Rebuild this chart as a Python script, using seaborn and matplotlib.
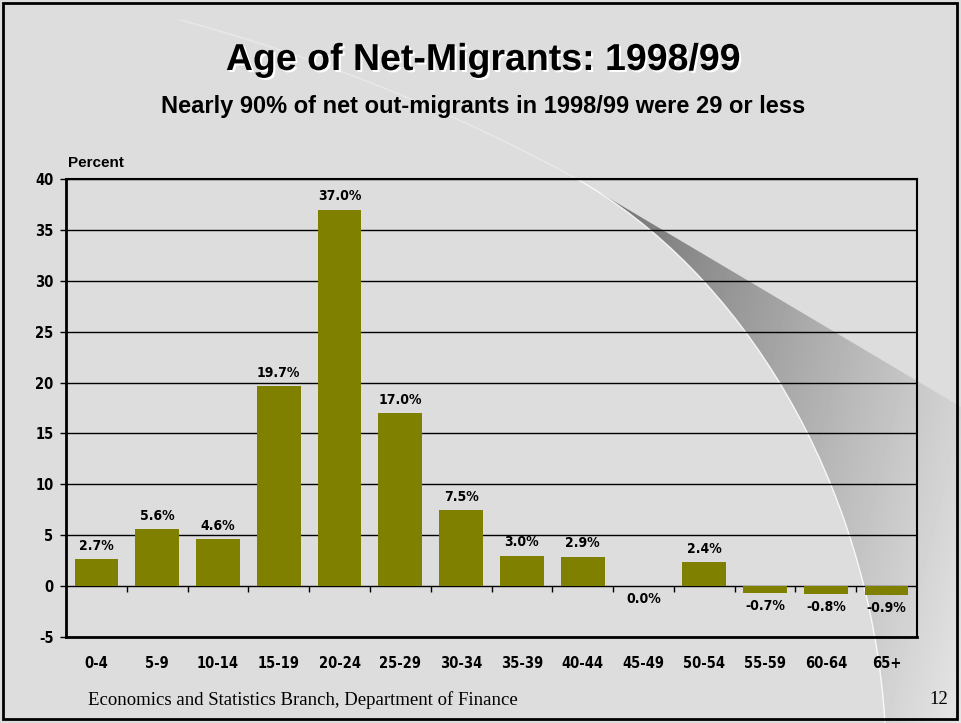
import numpy as np
import seaborn as sns
import matplotlib.pyplot as plt
import matplotlib.patheffects as pe
from matplotlib.path import Path
from matplotlib.patches import PathPatch, Rectangle
from matplotlib import font_manager

age_groups = ['0-4', '5-9', '10-14', '15-19', '20-24', '25-29', '30-34',
              '35-39', '40-44', '45-49', '50-54', '55-59', '60-64', '65+']
pct = [2.7, 5.6, 4.6, 19.7, 37.0, 17.0, 7.5, 3.0, 2.9, 0.0, 2.4, -0.7, -0.8, -0.9]
y_ticks = [-5, 0, 5, 10, 15, 20, 25, 30, 35, 40]

sns.set_style('white')
plt.rcParams['font.family'] = ['Liberation Sans', 'DejaVu Sans']
plt.rcParams['axes.unicode_minus'] = False
plt.rcParams['text.color'] = 'black'
plt.rcParams['xtick.color'] = 'black'
plt.rcParams['ytick.color'] = 'black'

# condensed bold face for the tick / value labels, if one is installed
cond = [f for f in font_manager.fontManager.ttflist
        if f.weight in (700, 'bold') and ('Narrow' in f.name or 'Condensed' in f.name
                                          or 'Narrow' in f.fname or 'Condensed' in f.fname)]


def label_font(size):
    if cond:
        return dict(fontproperties=font_manager.FontProperties(fname=cond[0].fname, size=size))
    return dict(family=['Liberation Sans', 'DejaVu Sans'], fontweight='bold', fontsize=size)


tick_kw = label_font(10.5)
value_kw = label_font(10)

W, H = 961, 723
fig = plt.figure(figsize=(W / 100, H / 100), dpi=100)
fig.patch.set_facecolor('#dddddd')

# ---- slide background decoration (pixel coords) ----
bg = fig.add_axes([0, 0, 1, 1], zorder=0)
bg.set_xlim(0, W)
bg.set_ylim(H, 0)
bg.axis('off')

tip = (575, 178)
wedge = Path(
    [tip, (961, 407), (961, 723), (885, 723), (870, 480), (740, 270), tip, tip],
    [Path.MOVETO, Path.LINETO, Path.LINETO, Path.LINETO,
     Path.CURVE4, Path.CURVE4, Path.CURVE4, Path.CLOSEPOLY])
wpatch = PathPatch(wedge, facecolor='none', edgecolor='none')
bg.add_patch(wpatch)
gx, gy = np.meshgrid(np.arange(W), np.arange(H))
shade = 0.42 + 0.36 * (gx - 575) / 386 + 0.12 * (gy - 178) / 545
shade = np.clip(shade, 0, 0.91)
img = bg.imshow(shade, cmap='gray', vmin=0, vmax=1, extent=[0, W, H, 0],
                interpolation='bilinear', aspect='auto')
img.set_clip_path(wpatch)

arc_top = Path([(180, 20), (330, 60), (470, 120), tip],
               [Path.MOVETO, Path.CURVE4, Path.CURVE4, Path.CURVE4])
arc_low = Path([tip, (740, 270), (870, 480), (885, 723)],
               [Path.MOVETO, Path.CURVE4, Path.CURVE4, Path.CURVE4])
bg.add_patch(PathPatch(arc_top, facecolor='none', edgecolor='white', lw=1, alpha=0.35))
bg.add_patch(PathPatch(arc_low, facecolor='none', edgecolor='white', lw=1, alpha=0.85))
bg.add_patch(Rectangle((3, 3), 954, 716, fill=False, edgecolor='black', lw=2))

# ---- chart ----
ax = fig.add_axes([66 / W, 1 - 637 / H, 851 / W, 458 / H], zorder=1)
ax.patch.set_alpha(0)
sns.barplot(x=age_groups, y=pct, color='#808000', width=0.72, saturation=1,
            edgecolor='none', linewidth=0, ax=ax)

# category separator ticks on the zero line
ax.vlines(np.arange(0.5, len(age_groups) - 1), -0.6, 0, color='black', lw=1)

ax.set_xlim(-0.5, len(age_groups) - 0.5)
ax.set_ylim(-5, 40)
ax.set_axisbelow(True)
ax.yaxis.grid(True, color='black', lw=1)
ax.xaxis.grid(False)
for side, lw in [('left', 2), ('bottom', 2), ('top', 1.5), ('right', 1.5)]:
    ax.spines[side].set_visible(True)
    ax.spines[side].set_color('black')
    ax.spines[side].set_linewidth(lw)

ax.tick_params(axis='x', length=0, pad=14)
ax.tick_params(axis='y', length=4, width=1, direction='out', color='black', pad=5, left=True)
ax.set_xticks(range(len(age_groups)))
ax.set_xticklabels(age_groups, **tick_kw)
ax.set_yticks(y_ticks)
ax.set_yticklabels([str(t) for t in y_ticks], **tick_kw)
ax.set_xlabel('')
ax.set_ylabel('')

for i, v in enumerate(pct):
    if v > 0:
        ax.text(i, v + 0.6, f'{v:.1f}%', ha='center', va='bottom', **value_kw)
    else:
        ax.text(i, v - 0.6, f'{v:.1f}%', ha='center', va='top', **value_kw)

shadow = [pe.withSimplePatchShadow(offset=(1.5, -1.5), shadow_rgbFace='white', alpha=1)]
fig.text(483 / W, 1 - 60 / H, 'Age of Net-Migrants: 1998/99', ha='center', va='center',
         fontsize=27, fontweight='bold', path_effects=shadow)
fig.text(483 / W, 1 - 107 / H, 'Nearly 90% of net out-migrants in 1998/99 were 29 or less',
         ha='center', va='center', fontsize=17, fontweight='bold')
fig.text(68 / W, 1 - 163 / H, 'Percent', ha='left', va='center', fontsize=11, fontweight='bold')
fig.text(88 / W, 1 - 700 / H, 'Economics and Statistics Branch, Department of Finance',
         ha='left', va='center', fontsize=13.5, family=['Liberation Serif', 'DejaVu Serif'])
fig.text(948 / W, 1 - 700 / H, '12', ha='right', va='center', fontsize=13.5,
         family=['Liberation Serif', 'DejaVu Serif'])

fig.savefig('out.png', dpi=100, facecolor=fig.get_facecolor())
